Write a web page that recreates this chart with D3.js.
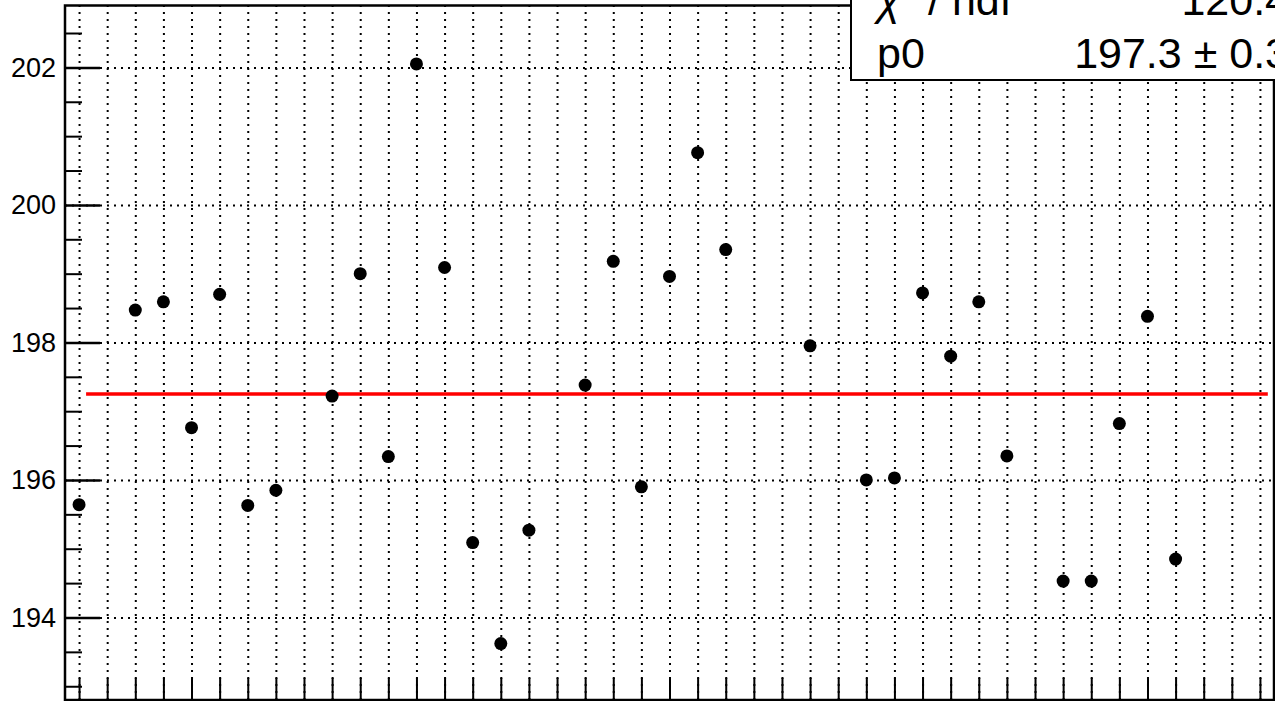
<!DOCTYPE html>
<html>
<head>
<meta charset="utf-8">
<script src="https://cdn.jsdelivr.net/npm/d3@7"></script>
<style>
  html, body { margin: 0; padding: 0; background: #fff; }
  svg { display: block; font-family: "Liberation Sans", Arial, sans-serif; }
</style>
</head>
<body>
<div id="chart"></div>
<script>
// measurement index (x) and measured value (y)
const runIndex = [0, 2, 3, 4, 5, 6, 7, 9, 10, 11, 12, 13, 14, 15, 16, 18, 19, 20, 21, 22, 23,
  26, 28, 29, 30, 31, 32, 33, 35, 36, 37, 38, 39];
const values = [195.64, 198.47, 198.59, 196.76, 198.70, 195.63, 195.85, 197.22, 199.00, 196.34,
  202.05, 199.09, 195.09, 193.62, 195.27, 197.38, 199.18, 195.90, 198.96, 200.76, 199.35,
  197.95, 196.00, 196.03, 198.72, 197.80, 198.59, 196.35, 194.53, 194.53, 196.82, 198.38, 194.85];

const yMajorTicks = [194, 196, 198, 200, 202];
const yMinorTicks = [193, 193.5, 194.5, 195, 195.5, 196.5, 197, 197.5, 198.5, 199, 199.5,
  200.5, 201, 201.5, 202.5];
const xTicks = d3.range(0, 43);

// pol0 fit
const fitValue = 197.25;
const fitRange = [0.25, 42.28];
const statLabels = ["ndf", "p0"];
const statValues = ["120.4", "197.3 \u00b1 0.3"];

const width = 1275, height = 701;
const frame = { left: 65, right: 1274, top: 5.5, bottom: 700 };

const x = d3.scaleLinear()
  .domain([-0.5, 42.5])
  .range([frame.left, frame.right]);

const y = d3.scaleLinear()
  .domain([192.8, 202.9])
  .range([frame.bottom, frame.top]);

const svg = d3.select("#chart")
  .append("svg")
  .attr("width", width)
  .attr("height", height)
  .attr("viewBox", [0, 0, width, height]);

svg.append("rect")
  .attr("width", width)
  .attr("height", height)
  .attr("fill", "#fff");

// dotted grid
svg.append("g")
  .attr("transform", `translate(0,${frame.bottom})`)
  .call(d3.axisBottom(x).tickValues(xTicks).tickSize(-(frame.bottom - frame.top)).tickFormat(""))
  .call(g => g.select(".domain").remove())
  .call(g => g.selectAll("line")
    .attr("stroke", "#000")
    .attr("stroke-width", 2)
    .attr("stroke-dasharray", "2,5"));

svg.append("g")
  .attr("transform", `translate(${frame.left},0)`)
  .call(d3.axisLeft(y).tickValues(yMajorTicks).tickSize(-(frame.right - frame.left)).tickFormat(""))
  .call(g => g.select(".domain").remove())
  .call(g => g.selectAll("line")
    .attr("stroke", "#000")
    .attr("stroke-width", 2)
    .attr("stroke-dasharray", "2,5"));

// axis ticks
svg.append("g")
  .attr("transform", `translate(0,${frame.bottom})`)
  .call(d3.axisBottom(x).tickValues(xTicks).tickSize(-22).tickFormat(""))
  .call(g => g.select(".domain").remove())
  .call(g => g.selectAll("line").attr("stroke", "#000").attr("stroke-width", 2));

svg.append("g")
  .attr("transform", `translate(${frame.left},0)`)
  .call(d3.axisLeft(y).tickValues(yMinorTicks).tickSize(-17).tickFormat(""))
  .call(g => g.select(".domain").remove())
  .call(g => g.selectAll("line").attr("stroke", "#000").attr("stroke-width", 2));

svg.append("g")
  .attr("transform", `translate(${frame.left},0)`)
  .call(d3.axisLeft(y).tickValues(yMajorTicks).tickSize(-35).tickPadding(9).tickFormat(d3.format("d")))
  .call(g => g.select(".domain").remove())
  .call(g => g.selectAll("line").attr("stroke", "#000").attr("stroke-width", 2.5))
  .call(g => g.selectAll("text")
    .attr("fill", "#000")
    .attr("font-size", 27)
    .attr("font-family", "'Liberation Sans', Arial, sans-serif"));

// frame
svg.append("rect")
  .attr("x", frame.left)
  .attr("y", frame.top)
  .attr("width", frame.right - frame.left)
  .attr("height", frame.bottom - frame.top)
  .attr("fill", "none")
  .attr("stroke", "#000")
  .attr("stroke-width", 2.5);

// fit line
svg.append("line")
  .attr("x1", x(fitRange[0]))
  .attr("x2", x(fitRange[1]))
  .attr("y1", y(fitValue))
  .attr("y2", y(fitValue))
  .attr("stroke", "#ff0000")
  .attr("stroke-width", 3.5);

// points
svg.append("g")
  .selectAll("circle")
  .data(runIndex)
  .join("circle")
  .attr("cx", d => x(d))
  .attr("cy", (d, i) => y(values[i]))
  .attr("r", 6.5)
  .attr("fill", "#000");

// stats box
const stats = svg.append("g");
stats.append("rect")
  .attr("x", 851)
  .attr("y", -70)
  .attr("width", 500)
  .attr("height", 150)
  .attr("fill", "#fff")
  .attr("stroke", "#000")
  .attr("stroke-width", 2);

const chiLabel = stats.append("text")
  .attr("x", 877)
  .attr("y", 15)
  .attr("font-size", 43);
chiLabel.append("tspan").attr("font-style", "italic").text("\u03c7");
chiLabel.append("tspan").attr("font-size", 28).attr("dy", -18).text("2");
chiLabel.append("tspan").attr("dy", 18).text(" / " + statLabels[0]);

stats.append("text")
  .attr("x", 877)
  .attr("y", 68)
  .attr("font-size", 43)
  .text(statLabels[1]);

stats.selectAll("text.val")
  .data(statValues)
  .join("text")
  .attr("class", "val")
  .attr("x", 1289)
  .attr("y", (d, i) => i === 0 ? 15 : 68)
  .attr("text-anchor", "end")
  .attr("font-size", 43)
  .text(d => d);
</script>
</body>
</html>
